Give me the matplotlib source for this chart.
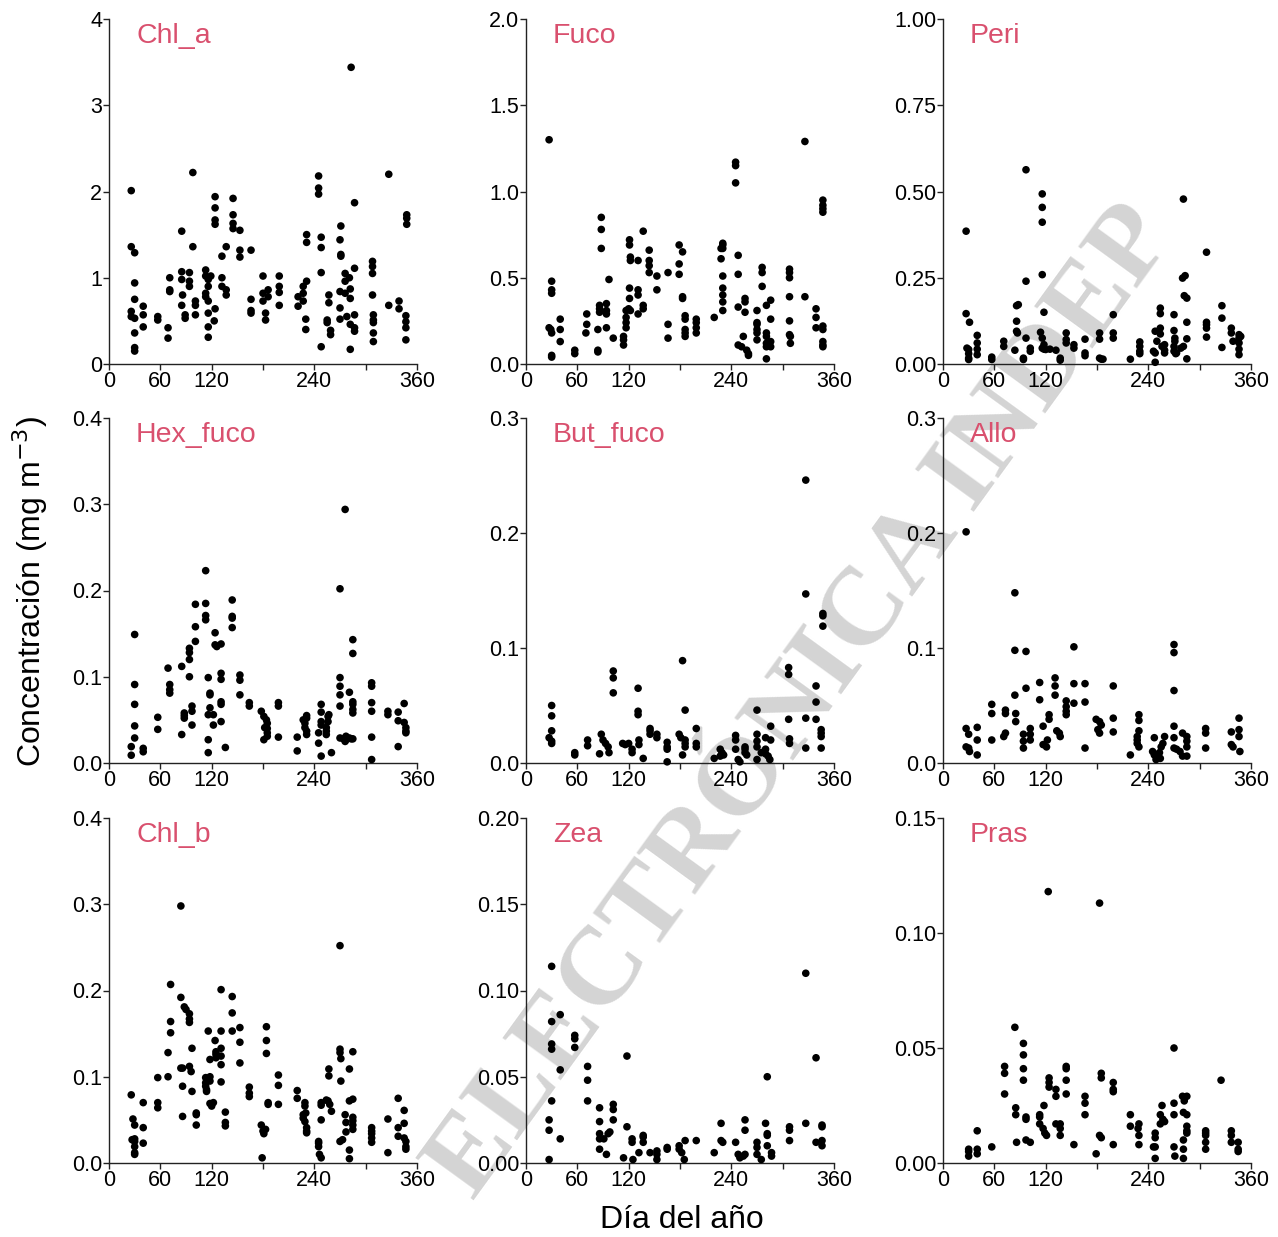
import matplotlib
matplotlib.use("Agg")
import matplotlib.pyplot as plt
from matplotlib.ticker import FormatStrFormatter

plt.rcParams['font.family'] = ['Liberation Sans', 'DejaVu Sans']

# ---------------- data (day of year, concentration mg m-3) ----------------
chla_day = [26,26,30,30,30,26,26,30,30,30,30,40,40,40,57,57,69,69,71,71,71,85,85,85,86,85,89,89,94,94,94,98,98,101,101,101,
            113,113,113,113,116,116,116,116,116,116,119,124,124,124,124,124,123,132,132,132,137,137,137,145,145,145,145,
            153,153,153,166,166,166,166,180,180,180,183,183,186,186,199,199,199,199,221,221,227,227,227,231,231,231,230,230,
            245,245,245,248,248,248,248,257,257,255,255,259,259,271,270,271,271,270,270,270,276,276,276,278,283,281,282,282,
            282,282,287,287,287,287,287,308,308,308,308,309,309,309,309,309,327,327,339,339,348,348,348,347,347,347,347]
chla_conc = [2.01,1.36,1.29,0.94,0.75,0.61,0.55,0.53,0.36,0.19,0.15,0.67,0.57,0.43,0.55,0.51,0.42,0.30,1.00,0.86,0.84,
             1.54,1.07,0.98,0.80,0.68,0.57,0.53,1.06,0.96,0.90,2.22,1.36,0.73,0.68,0.57,1.09,1.02,0.82,0.78,0.98,0.90,0.73,
             0.59,0.43,0.31,1.02,1.94,1.81,1.67,1.62,0.64,0.50,1.25,1.00,0.90,1.36,0.86,0.80,1.92,1.73,1.63,1.57,1.55,1.32,
             1.24,1.32,0.75,0.62,0.59,1.02,0.82,0.73,0.59,0.51,0.86,0.78,1.02,0.90,0.83,0.68,0.78,0.67,0.90,0.82,0.73,1.50,
             1.41,0.96,0.52,0.40,2.18,2.04,1.97,1.47,1.35,1.06,0.20,0.80,0.71,0.51,0.48,0.39,0.34,1.60,1.44,1.27,1.25,0.84,
             0.65,0.52,1.05,0.96,0.82,0.55,3.44,1.00,0.87,0.76,0.46,0.17,1.87,1.11,0.57,0.42,0.38,1.19,1.13,1.05,0.80,0.57,
             0.51,0.48,0.36,0.26,2.20,0.68,0.73,0.64,1.73,1.69,1.62,0.56,0.49,0.42,0.28]

fuco_day = [27,30,30,30,27,29,30,30,30,40,40,40,57,57,71,71,70,84,84,84,88,88,88,86,86,86,94,94,94,94,97,102,114,114,114,
            117,117,117,117,120,121,121,122,122,121,121,122,131,131,131,131,137,137,137,144,144,144,144,153,153,166,166,166,
            179,179,179,183,183,183,186,186,186,186,186,199,199,199,199,220,228,228,230,230,230,230,230,230,230,230,
            245,245,245,248,248,248,248,252,256,256,256,254,258,260,260,270,270,270,270,270,270,276,276,276,
            281,281,281,281,281,281,286,286,286,286,308,308,308,308,308,308,309,309,326,326,339,339,339,
            347,347,347,347,347,347,347,347,347]
fuco_conc = [1.30,0.48,0.43,0.41,0.21,0.20,0.18,0.05,0.04,0.26,0.20,0.13,0.08,0.06,0.29,0.23,0.18,0.20,0.08,0.07,0.85,0.78,
             0.67,0.34,0.32,0.30,0.35,0.31,0.29,0.21,0.49,0.15,0.16,0.14,0.11,0.31,0.27,0.24,0.21,0.32,0.72,0.69,0.62,0.60,
             0.44,0.38,0.31,0.60,0.43,0.40,0.29,0.77,0.34,0.32,0.66,0.60,0.57,0.53,0.51,0.43,0.53,0.23,0.15,0.69,0.58,0.52,
             0.65,0.39,0.38,0.28,0.26,0.20,0.18,0.16,0.26,0.24,0.21,0.18,0.27,0.67,0.61,0.70,0.69,0.67,0.51,0.44,0.40,0.36,
             0.31,1.17,1.15,1.05,0.63,0.52,0.33,0.11,0.10,0.38,0.36,0.30,0.16,0.08,0.06,0.05,0.31,0.24,0.23,0.20,0.18,0.14,
             0.56,0.53,0.45,0.34,0.18,0.16,0.12,0.10,0.03,0.37,0.26,0.13,0.10,0.55,0.53,0.50,0.39,0.25,0.17,0.16,0.12,1.29,
             0.39,0.32,0.27,0.21,0.95,0.92,0.90,0.88,0.22,0.20,0.13,0.11,0.10]

peri_day = [27,27,31,28,30,30,30,30,40,40,40,40,57,57,71,71,84,86,86,88,86,87,94,94,97,97,97,102,102,114,116,116,116,116,
            116,118,116,118,120,118,125,132,137,137,144,144,144,153,153,166,166,166,183,183,183,185,187,199,199,199,219,
            230,230,230,230,246,248,248,248,250,254,254,254,254,256,259,259,259,270,270,271,271,270,270,272,273,278,281,
            281,280,283,282,285,285,285,285,308,308,308,308,308,326,326,326,337,337,339,346,346,346,346,346,348]
peri_conc = [0.385,0.146,0.121,0.046,0.042,0.030,0.017,0.013,0.083,0.061,0.043,0.027,0.020,0.013,0.066,0.051,0.040,0.169,
             0.124,0.172,0.095,0.090,0.017,0.013,0.563,0.240,0.075,0.046,0.037,0.092,0.075,0.493,0.454,0.411,0.259,0.150,
             0.046,0.043,0.042,0.056,0.043,0.040,0.017,0.011,0.090,0.071,0.061,0.056,0.046,0.072,0.032,0.024,0.090,0.072,
             0.017,0.014,0.014,0.143,0.090,0.075,0.014,0.064,0.051,0.037,0.030,0.037,0.032,0.005,0.095,0.066,0.104,0.087,
             0.162,0.146,0.051,0.056,0.040,0.032,0.143,0.097,0.075,0.066,0.051,0.037,0.030,0.032,0.046,0.051,0.478,0.249,
             0.256,0.198,0.191,0.121,0.073,0.015,0.121,0.114,0.104,0.078,0.324,0.169,0.133,0.048,0.104,0.090,0.066,0.085,
             0.075,0.061,0.043,0.027,0.080]

hex_day = [30,30,30,30,30,26,26,40,40,57,57,69,71,71,71,85,85,88,88,88,94,94,94,94,97,97,97,101,101,101,113,113,113,113,
           116,118,118,116,118,116,116,122,122,124,124,126,131,131,131,131,131,131,136,144,144,144,144,153,153,153,164,164,
           178,181,184,185,182,185,185,185,181,198,198,198,220,220,227,229,229,231,231,231,231,245,245,248,248,248,248,248,
           254,254,254,256,256,257,260,270,270,270,270,270,270,276,274,276,277,277,281,281,283,285,285,285,285,285,285,285,
           307,307,307,307,307,307,326,326,338,338,338,345,345,347,347,347]
hex_conc = [0.149,0.091,0.068,0.043,0.029,0.019,0.009,0.017,0.013,0.053,0.039,0.110,0.091,0.085,0.081,0.112,0.033,0.058,
            0.055,0.052,0.133,0.128,0.120,0.100,0.066,0.060,0.044,0.184,0.158,0.141,0.223,0.185,0.171,0.166,0.099,0.081,
            0.079,0.056,0.064,0.027,0.012,0.056,0.044,0.151,0.137,0.135,0.138,0.104,0.097,0.071,0.068,0.048,0.018,0.189,
            0.170,0.168,0.157,0.102,0.096,0.079,0.070,0.066,0.060,0.054,0.050,0.046,0.041,0.040,0.035,0.031,0.027,0.070,
            0.066,0.030,0.030,0.014,0.050,0.046,0.041,0.037,0.033,0.052,0.055,0.035,0.023,0.008,0.068,0.059,0.048,0.044,
            0.041,0.037,0.033,0.054,0.048,0.056,0.012,0.202,0.099,0.089,0.079,0.066,0.029,0.294,0.028,0.025,0.031,0.027,
            0.082,0.029,0.028,0.028,0.143,0.127,0.071,0.068,0.062,0.058,0.093,0.089,0.070,0.060,0.030,0.004,0.060,0.056,
            0.059,0.049,0.019,0.069,0.047,0.041,0.037,0.035]

but_day = [30,30,30,27,30,30,57,57,72,72,86,88,90,93,96,97,102,102,102,113,116,120,124,124,131,131,131,132,132,137,145,145,
           145,153,153,165,165,165,165,179,181,183,183,186,186,186,186,199,199,199,220,227,229,231,227,245,245,245,248,250,
           256,256,256,258,270,270,270,270,270,275,280,280,280,283,285,286,286,307,307,307,308,308,327,327,327,327,339,339,
           339,347,347,347,345,345,345,345]
but_conc = [0.050,0.041,0.028,0.022,0.019,0.017,0.009,0.007,0.020,0.015,0.008,0.025,0.020,0.017,0.014,0.009,0.080,0.074,
            0.061,0.017,0.016,0.017,0.012,0.009,0.065,0.045,0.042,0.020,0.016,0.004,0.030,0.028,0.025,0.025,0.022,0.018,
            0.014,0.012,0.001,0.025,0.022,0.089,0.007,0.046,0.020,0.017,0.014,0.030,0.017,0.014,0.004,0.012,0.009,0.007,
            0.006,0.024,0.020,0.012,0.003,0.001,0.014,0.012,0.009,0.007,0.046,0.025,0.019,0.014,0.003,0.009,0.022,0.012,
            0.008,0.006,0.003,0.032,0.020,0.083,0.077,0.038,0.021,0.017,0.246,0.147,0.039,0.013,0.067,0.053,0.038,0.130,
            0.128,0.119,0.029,0.026,0.023,0.013]

allo_day = [27,27,30,27,30,31,40,40,40,57,57,57,71,73,73,73,84,84,84,85,85,97,97,94,94,94,102,102,102,113,113,117,117,121,
            124,124,122,131,131,131,133,136,137,144,144,144,144,153,153,153,166,166,166,179,183,185,181,183,199,199,199,219,
            229,229,229,227,227,227,229,247,245,247,249,253,254,255,257,259,270,270,270,270,270,270,273,277,280,285,280,285,
            285,285,307,307,307,337,337,339,346,346,346,347]
allo_conc = [0.201,0.030,0.025,0.014,0.013,0.010,0.031,0.020,0.007,0.051,0.043,0.020,0.023,0.026,0.046,0.043,0.148,0.098,
             0.059,0.043,0.036,0.097,0.065,0.025,0.019,0.013,0.030,0.025,0.020,0.070,0.055,0.032,0.016,0.014,0.042,0.038,
             0.020,0.074,0.067,0.059,0.028,0.026,0.023,0.054,0.049,0.045,0.042,0.101,0.069,0.052,0.069,0.053,0.013,0.038,
             0.036,0.033,0.029,0.026,0.067,0.039,0.027,0.007,0.042,0.037,0.028,0.023,0.020,0.017,0.014,0.022,0.010,0.007,
             0.003,0.009,0.004,0.014,0.017,0.023,0.103,0.096,0.063,0.032,0.022,0.013,0.012,0.010,0.006,0.006,0.026,0.023,
             0.019,0.014,0.030,0.026,0.013,0.027,0.016,0.014,0.039,0.029,0.023,0.010]

chlb_day = [26,28,30,30,30,30,30,27,30,40,40,40,57,57,57,69,69,72,72,72,84,84,84,86,86,86,88,90,94,94,94,94,96,97,97,102,
            102,102,113,113,113,114,114,116,118,118,118,118,120,122,124,125,125,125,131,131,131,131,131,131,136,136,136,
            144,144,144,153,153,153,164,164,164,178,180,181,183,179,184,184,184,186,186,198,198,198,220,220,
            229,229,230,227,227,229,231,231,231,245,245,245,246,248,248,248,248,254,256,257,257,258,260,
            270,270,270,271,271,270,273,276,277,277,281,281,281,281,285,285,285,285,285,285,307,307,307,307,307,
            326,326,338,338,338,345,345,345,347,347,347]
chlb_conc = [0.079,0.051,0.044,0.028,0.025,0.019,0.012,0.027,0.010,0.070,0.041,0.023,0.099,0.070,0.064,0.128,0.100,0.207,
             0.164,0.151,0.192,0.298,0.110,0.110,0.089,0.054,0.181,0.178,0.173,0.167,0.163,0.112,0.106,0.083,0.133,0.058,
             0.056,0.044,0.099,0.093,0.089,0.085,0.083,0.153,0.120,0.100,0.095,0.069,0.066,0.070,0.142,0.129,0.126,0.122,
             0.201,0.153,0.133,0.124,0.114,0.094,0.059,0.047,0.043,0.193,0.174,0.153,0.157,0.140,0.116,0.088,0.081,0.077,
             0.044,0.037,0.034,0.039,0.006,0.158,0.142,0.127,0.070,0.068,0.102,0.090,0.068,0.084,0.075,0.070,0.066,0.058,
             0.056,0.052,0.048,0.041,0.037,0.035,0.025,0.023,0.019,0.010,0.006,0.070,0.067,0.050,0.073,0.072,0.109,0.101,
             0.068,0.060,0.252,0.132,0.128,0.121,0.095,0.025,0.027,0.056,0.047,0.036,0.109,0.072,0.015,0.005,0.129,0.074,
             0.053,0.049,0.044,0.039,0.041,0.037,0.034,0.029,0.024,0.051,0.012,0.075,0.041,0.031,0.061,0.046,0.029,0.025,
             0.019,0.016]

zea_day = [30,30,30,30,30,27,27,27,40,40,40,57,57,57,72,72,72,86,86,86,86,86,91,94,96,98,102,102,102,114,118,118,124,124,125,
           132,137,137,137,145,153,153,153,165,165,179,179,182,185,186,199,220,228,228,230,245,248,250,254,256,256,256,
           270,270,270,275,282,280,282,282,282,287,287,308,308,308,327,327,339,339,346,346,346,346]
zea_conc = [0.114,0.082,0.069,0.066,0.036,0.025,0.019,0.002,0.086,0.054,0.014,0.074,0.072,0.067,0.056,0.048,0.036,0.032,
            0.024,0.017,0.014,0.008,0.014,0.005,0.017,0.018,0.034,0.031,0.025,0.003,0.021,0.062,0.014,0.012,0.002,0.006,
            0.016,0.015,0.012,0.006,0.007,0.005,0.002,0.009,0.008,0.010,0.008,0.006,0.002,0.013,0.013,0.006,0.023,0.013,
            0.012,0.012,0.005,0.003,0.004,0.005,0.025,0.019,0.012,0.009,0.005,0.002,0.050,0.023,0.017,0.016,0.010,0.006,
            0.004,0.021,0.019,0.013,0.110,0.023,0.061,0.012,0.022,0.021,0.013,0.010]

pras_day = [30,30,30,40,40,40,57,72,72,72,84,85,85,86,94,94,94,94,97,97,97,102,113,113,113,118,117,119,121,123,124,124,124,
            132,132,132,137,137,137,144,144,144,144,153,166,166,166,179,183,183,185,185,185,199,199,199,199,219,219,229,229,
            229,228,248,248,248,248,246,254,254,256,257,259,270,270,270,270,271,280,285,282,281,285,285,285,285,281,281,281,
            307,307,307,307,307,325,337,337,337,345,345,345]
pras_conc = [0.006,0.005,0.003,0.014,0.006,0.004,0.007,0.042,0.039,0.030,0.059,0.024,0.021,0.009,0.052,0.047,0.041,0.036,
             0.020,0.019,0.010,0.009,0.021,0.020,0.017,0.025,0.015,0.013,0.012,0.118,0.037,0.035,0.033,0.032,0.029,0.017,
             0.017,0.015,0.012,0.042,0.041,0.036,0.030,0.008,0.029,0.026,0.021,0.004,0.113,0.012,0.011,0.039,0.037,0.035,
             0.032,0.031,0.008,0.021,0.016,0.017,0.012,0.008,0.015,0.013,0.011,0.007,0.002,0.007,0.017,0.021,0.025,0.019,
             0.018,0.050,0.026,0.021,0.007,0.003,0.029,0.029,0.027,0.022,0.021,0.016,0.014,0.013,0.010,0.006,0.002,0.014,
             0.013,0.012,0.009,0.006,0.036,0.014,0.012,0.009,0.009,0.006,0.005]

pigment_names = ['Chl_a', 'Fuco', 'Peri', 'Hex_fuco', 'But_fuco', 'Allo', 'Chl_b', 'Zea', 'Pras']
y_max = [4, 2.0, 1.00, 0.4, 0.3, 0.3, 0.4, 0.20, 0.15]
y_step = [1, 0.5, 0.25, 0.1, 0.1, 0.1, 0.1, 0.05, 0.05]
y_fmt = ['%d', '%.1f', '%.2f', '%.1f', '%.1f', '%.1f', '%.1f', '%.2f', '%.2f']
x_ticks = [0, 60, 120, 180, 240, 300, 360]
x_ticklabels = ['0', '60', '120', '', '240', '', '360']

series = [(chla_day, chla_conc), (fuco_day, fuco_conc), (peri_day, peri_conc),
          (hex_day, hex_conc), (but_day, but_conc), (allo_day, allo_conc),
          (chlb_day, chlb_conc), (zea_day, zea_conc), (pras_day, pras_conc)]

# ---------------- figure ----------------
W, H = 1278, 1237
fig = plt.figure(figsize=(W / 100, H / 100), dpi=100)

# watermark
fig.text(0.628, 0.432, 'ELECTRÓNICA INDEP', rotation=54, color='#d4d4d4', fontsize=80,
         family='Liberation Serif', weight='bold', ha='center', va='center', zorder=-5)

lefts = [109, 526, 943]
tops = [19, 418, 818]
aw, ah = 308, 345
title_color = '#d9506e'

for i, name in enumerate(pigment_names):
    r, c = divmod(i, 3)
    ax = fig.add_axes([lefts[c] / W, 1 - (tops[r] + ah) / H, aw / W, ah / H])
    ax.set_facecolor('none')
    d, v = series[i]
    ax.scatter(d, v, s=30, color='black', edgecolors='none', clip_on=False, zorder=3)
    ax.set_xlim(0, 360)
    ax.set_ylim(0, y_max[i])
    ax.set_xticks(x_ticks)
    ax.set_xticklabels(x_ticklabels)
    n = int(round(y_max[i] / y_step[i]))
    ax.set_yticks([k * y_step[i] for k in range(n + 1)])
    ax.yaxis.set_major_formatter(FormatStrFormatter(y_fmt[i]))
    for s in ['top', 'right']:
        ax.spines[s].set_visible(False)
    for s in ['left', 'bottom']:
        ax.spines[s].set_linewidth(1.0)
        ax.spines[s].set_color('#222222')
    ax.tick_params(axis='both', direction='out', length=4, width=1.0, color='#222222',
                   labelsize=15.5, pad=1)
    ax.text(0.088, 0.988, name, transform=ax.transAxes, color=title_color, fontsize=20.5,
            ha='left', va='top')

fig.text(30 / W, 1 - 592 / H, 'Concentración (mg m$^{-3}$)', rotation=90, ha='center', va='center',
         fontsize=23)
fig.text(682 / W, 1 - 1220 / H, 'Día del año', ha='center', va='center', fontsize=23)

fig.savefig('out.png', dpi=100)
